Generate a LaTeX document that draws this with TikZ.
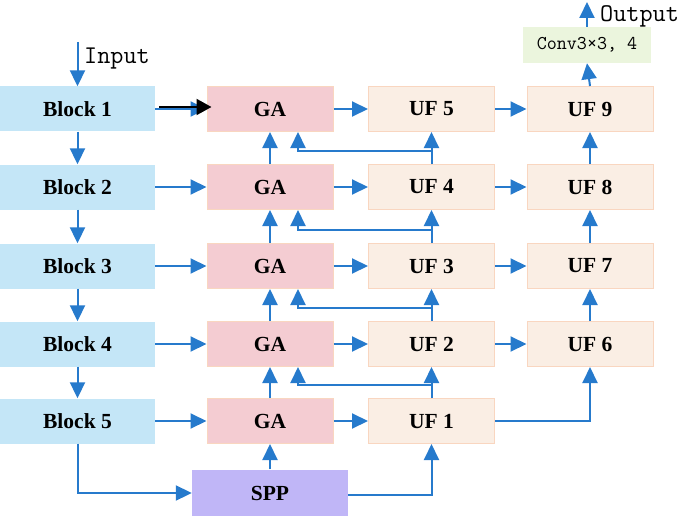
\documentclass[tikz,border=0pt]{standalone}
\usepackage{fontspec}
\setmainfont{Liberation Serif}
\setmonofont{Latin Modern Mono}
\usetikzlibrary{arrows.meta}

\definecolor{blockblue}{RGB}{196,230,247}
\definecolor{gapink}{RGB}{244,204,210}
\definecolor{ufcream}{RGB}{250,238,228}
\definecolor{edgepeach}{RGB}{249,214,192}
\definecolor{spppurple}{RGB}{192,182,247}
\definecolor{convgreen}{RGB}{235,245,221}
\definecolor{flowblue}{RGB}{38,122,204}

\tikzset{
    box/.style={minimum height=45pt, inner sep=0pt, font=\fontsize{21.5}{24}\selectfont\bfseries},
    blockbox/.style={box, fill=blockblue, minimum width=155pt},
    gabox/.style={box, fill=gapink, draw=edgepeach, line width=1pt, minimum width=126pt},
    ufbox/.style={box, fill=ufcream, draw=edgepeach, line width=1pt, minimum width=126pt},
    flow/.style={flowblue, line width=2pt, -{Triangle[length=16pt,width=15pt]}},
    link/.style={flowblue, line width=2pt}
}

\begin{document}
\begin{tikzpicture}[x=1pt, y=-1pt]
        \useasboundingbox (0,0) rectangle (685,516);
        % left column
        \node[blockbox] (b1) at (77.5, 109) {Block 1};
        \node[blockbox] (b2) at (77.5, 187) {Block 2};
        \node[blockbox] (b3) at (77.5, 266) {Block 3};
        \node[blockbox] (b4) at (77.5, 344) {Block 4};
        \node[blockbox] (b5) at (77.5, 421) {Block 5};
        % GA column
        \node[gabox] (ga1) at (270, 109) {GA};
        \node[gabox] (ga2) at (270, 187) {GA};
        \node[gabox] (ga3) at (270, 266) {GA};
        \node[gabox] (ga4) at (270, 344) {GA};
        \node[gabox] (ga5) at (270, 421) {GA};
        % UF columns
        \node[ufbox] (uf5) at (431.5, 109) {UF 5};
        \node[ufbox] (uf4) at (431.5, 187) {UF 4};
        \node[ufbox] (uf3) at (431.5, 266) {UF 3};
        \node[ufbox] (uf2) at (431.5, 344) {UF 2};
        \node[ufbox] (uf1) at (431.5, 421) {UF 1};
        \node[ufbox] (uf9) at (590, 109) {UF 9};
        \node[ufbox] (uf8) at (590, 187) {UF 8};
        \node[ufbox] (uf7) at (590, 266) {UF 7};
        \node[ufbox] (uf6) at (590, 344) {UF 6};
        \node[box, fill=spppurple, minimum width=156pt, minimum height=47pt] (spp) at (270, 493) {SPP};
        \node[fill=convgreen, minimum width=128pt, minimum height=36pt, inner sep=0pt,
              font=\ttfamily\fontsize{19.5}{21}\selectfont] (conv) at (587, 45) {Conv3×3, 4};
        % input / output
        \coordinate (in) at (77.5, 42);
        \coordinate (out) at (587, 2);
        \node[anchor=west, inner sep=0pt, font=\ttfamily\fontsize{25.5}{28}\selectfont] (intext) at (84, 59) {Input};
        \node[anchor=west, inner sep=0pt, font=\ttfamily\fontsize{25.5}{28}\selectfont] (outtext) at (600, 16) {Output};
        \draw[flow] (in) -- (b1.north);
        \draw[flow] (conv.north) -- (out);
        % down the blocks
        \foreach \a/\b in {b1/b2, b2/b3, b3/b4, b4/b5}
            \draw[flow] (\a) -- (\b);
        % blocks into GA
        \foreach \k in {1,...,5}
            \draw[flow] (b\k.east) -- (ga\k.west);
        \draw[black, line width=2pt, -{Triangle[length=15pt,width=16pt]}]
            ([xshift=4pt,yshift=2pt]b1.east) -- ([xshift=5pt,yshift=2pt]ga1.west);
        % GA into UF
        \draw[flow] (ga1.east) -- (uf5.west);
        \draw[flow] (ga2.east) -- (uf4.west);
        \draw[flow] (ga3.east) -- (uf3.west);
        \draw[flow] (ga4.east) -- (uf2.west);
        \draw[flow] (ga5.east) -- (uf1.west);
        \draw[flow] (uf5.east) -- (uf9.west);
        \draw[flow] (uf4.east) -- (uf8.west);
        \draw[flow] (uf3.east) -- (uf7.west);
        \draw[flow] (uf2.east) -- (uf6.west);
        \draw[flow] (uf1.east) -| (uf6.south);
        % upward paths
        \foreach \a/\b in {ga5/ga4, ga4/ga3, ga3/ga2, ga2/ga1, uf6/uf7, uf7/uf8, uf8/uf9, uf9/conv}
            \draw[flow] (\a.north) -- (\b.south);
        \foreach \a/\b/\g in {uf1/uf2/ga4, uf2/uf3/ga3, uf3/uf4/ga2, uf4/uf5/ga1} {
            \draw[flow] (\a.north) -- (\b.south);
            \draw[flow] ([yshift=13pt]\a.north) -| ([xshift=28pt]\g.south);
        }
        % SPP
        \draw[flow] (spp.north) -- (ga5.south);
        \draw[flow] (b5.south) |- (spp.west);
        \draw[flow] ([yshift=-2pt]spp.east) -| (uf1.south);
\end{tikzpicture}
\end{document}
